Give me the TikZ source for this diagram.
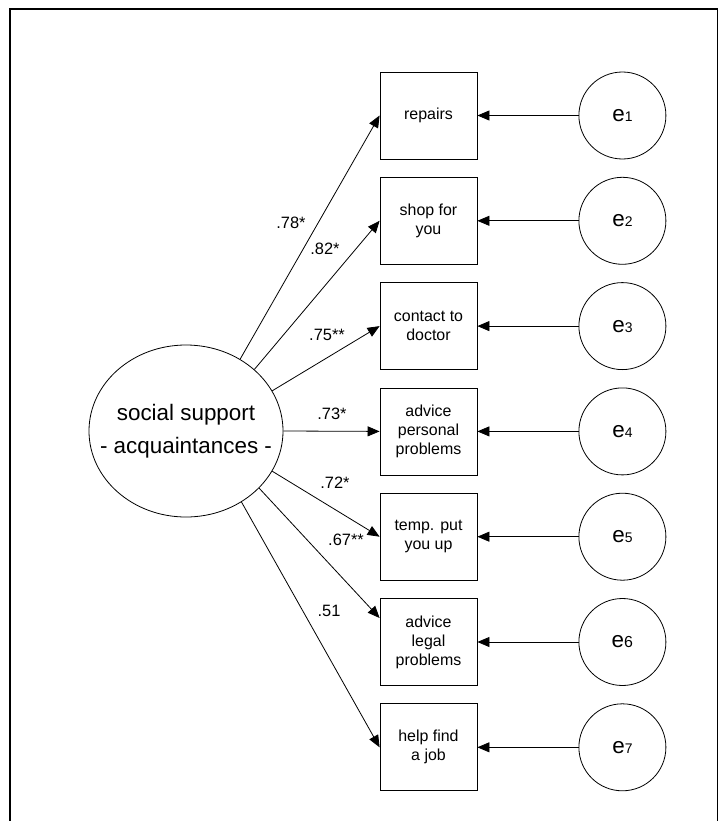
\documentclass[tikz,border=0pt]{standalone}
\usepackage{fontspec}
\setmainfont{Liberation Sans}
\usetikzlibrary{arrows.meta,shapes.geometric}

\begin{document}
\begin{tikzpicture}[x=1bp,y=-1bp,
  thin line/.style={line width=0.8bp},
  item/.style={draw, thin line, minimum width=97bp, minimum height=87bp,
    inner sep=0pt, align=center, font=\fontsize{16}{19}\selectfont},
  err/.style={draw, circle, thin line, minimum size=87bp, inner sep=0pt,
    font=\fontsize{22.5}{26}\selectfont},
  latent/.style={draw, ellipse, thin line, minimum width=194bp,
    minimum height=172bp, inner sep=0pt},
  latent text/.style={inner sep=0pt, align=center,
    font=\fontsize{22.5}{33}\selectfont},
  load/.style={thin line, -{Triangle[length=12bp,width=10bp]}},
  coef/.style={inner sep=0pt, font=\fontsize{16.5}{19}\selectfont}
]
\useasboundingbox (0,0) rectangle (719,821);

% outer frame (open at the bottom)
\draw[line width=1.6bp] (10,821) -- (10,9) -- (717.5,9) -- (717.5,821);

% latent factor
\node[latent] (ss) at (186,431) {};
\node[latent text] (sstext) at (ss.center) {social support\\- acquaintances -};

% indicators
\node[item] (b1) at (428.5,115.5) {repairs};
\node[item] (b2) at (428.5,220.8) {shop for\\you};
\node[item] (b3) at (428.5,326.1) {contact to\\doctor};
\node[item] (b4) at (428.5,431.4) {advice\\personal\\problems};
\node[item] (b5) at (428.5,536.7) {temp. put\\you up};
\node[item] (b6) at (428.5,642.0) {advice\\legal\\problems};
\node[item] (b7) at (428.5,747.3) {help find\\a job};

% error terms
\newcommand{\errnum}[1]{{\fontsize{14}{14}\selectfont #1}}
\node[err] (e1) at (622.4,115.5) {e\errnum{1}};
\node[err] (e2) at (622.4,220.8) {e\errnum{2}};
\node[err] (e3) at (622.4,326.1) {e\errnum{3}};
\node[err] (e4) at (622.4,431.4) {e\errnum{4}};
\node[err] (e5) at (622.4,536.7) {e\errnum{5}};
\node[err] (e6) at (622.4,642.0) {e{\fontsize{16}{16}\selectfont 6}};
\node[err] (e7) at (622.4,747.3) {e\errnum{7}};

\foreach \i in {1,...,7} {
  \draw[load] (e\i) -- (b\i);
}

% factor loadings
\draw[load] (ss.53.5) -- (b1.west);
\draw[load] (ss.42.8) -- (b2.west);
\draw[load] (ss.25.5) -- (b3.west);
\draw[load] (ss.0) -- (b4.west);
\draw[load] (ss.-25.5) -- (b5.west);
\draw[load] (ss.-38) -- ([yshift=24bp]b6.west);
\draw[load] (ss.-52.6) -- (b7.west);

\node[coef] (c1) at (291,223) {.78*};
\node[coef] (c2) at (325,249) {.82*};
\node[coef] (c3) at (327,335) {.75**};
\node[coef] (c4) at (332,414) {.73*};
\node[coef] (c5) at (335,483) {.72*};
\node[coef] (c6) at (346,540) {.67**};
\node[coef] (c7) at (329,611) {.51};
\end{tikzpicture}
\end{document}
